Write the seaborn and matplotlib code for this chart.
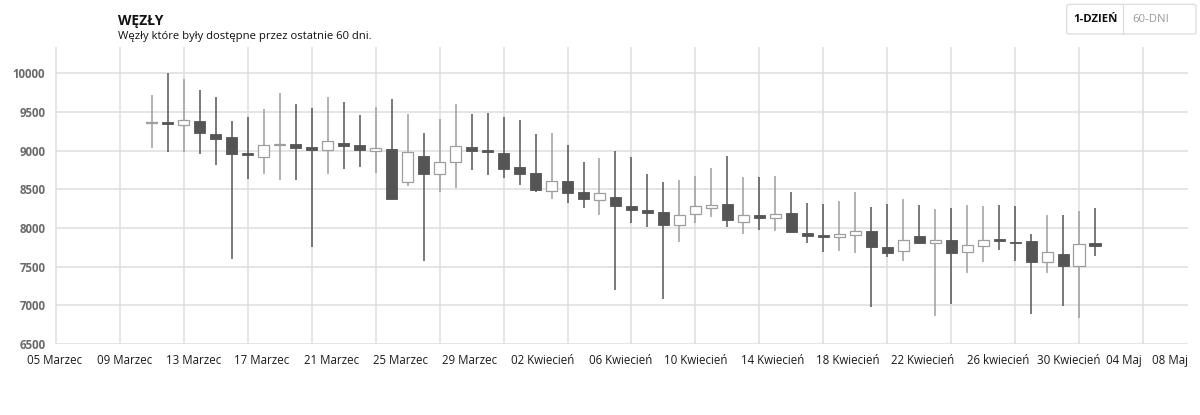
import numpy as np
import pandas as pd
import matplotlib
matplotlib.use("Agg")
import matplotlib.pyplot as plt
from matplotlib.patches import FancyBboxPatch
from matplotlib.lines import Line2D
import seaborn as sns

# ---------------- data ----------------
start_date = pd.Timestamp("2020-03-05")
dates = pd.date_range("2020-03-11", periods=60, freq="D")

open_ = [9360, 9370, 9332, 9379, 9220, 9177, 8966, 8914, 9069, 9082,
         9043, 9013, 9099, 9069, 9000, 9017, 8600, 8935, 8694, 8849,
         9043, 9009, 8966, 8793, 8711, 8478, 8603, 8470, 8358, 8405,
         8285, 8229, 8203, 8039, 8177, 8263, 8310, 8073, 8164, 8129,
         8190, 7935, 7910, 7888, 7914, 7957, 7759, 7707, 7892, 7806,
         7841, 7685, 7772, 7854, 7815, 7828, 7565, 7668, 7513, 7802]
high = [9720, 10000, 9927, 9784, 9690, 9384, 9435, 9539, 9741, 9599,
        9556, 9690, 9634, 9461, 9569, 9664, 9474, 9224, 9410, 9599,
        9474, 9491, 9431, 9397, 9211, 9224, 9073, 8849, 8901, 9000,
        8918, 8698, 8591, 8621, 8672, 8780, 8935, 8655, 8655, 8668,
        8466, 8319, 8310, 8349, 8466, 8272, 8310, 8375, 8298, 8246,
        8254, 8298, 8285, 8298, 8289, 7922, 8164, 8164, 8224, 8254]
low = [9030, 8987, 8987, 8953, 8819, 7599, 8634, 8698, 8621, 8621,
       7750, 8698, 8763, 8793, 8707, 8370, 8543, 7573, 8470, 8513,
       8750, 8685, 8642, 8552, 8465, 8379, 8328, 8259, 8168, 7198,
       8069, 8017, 7082, 7815, 8060, 8147, 8017, 7918, 7974, 7961,
       7944, 7802, 7694, 7707, 7672, 6983, 7629, 7578, 7789, 6862,
       7013, 7423, 7565, 7711, 7569, 6884, 7423, 6992, 6832, 7642]
close = [9375, 9350, 9392, 9224, 9155, 8957, 8944, 9069, 9082, 9039,
         9009, 9125, 9060, 9009, 9030, 8379, 8980, 8698, 8858, 9056,
         8996, 8987, 8767, 8698, 8487, 8603, 8457, 8371, 8453, 8289,
         8237, 8194, 8035, 8173, 8285, 8297, 8099, 8164, 8129, 8177,
         7948, 7901, 7884, 7923, 7957, 7750, 7681, 7841, 7806, 7841,
         7673, 7776, 7841, 7832, 7806, 7565, 7694, 7513, 7789, 7768]

x_labels = ["05 Marzec", "09 Marzec", "13 Marzec", "17 Marzec", "21 Marzec",
            "25 Marzec", "29 Marzec", "02 Kwiecień", "06 Kwiecień", "10 Kwiecień",
            "14 Kwiecień", "18 Kwiecień", "22 Kwiecień", "26 kwiecień",
            "30 Kwiecień", "04 Maj", "08 Maj"]
y_ticks = [6500, 7000, 7500, 8000, 8500, 9000, 9500, 10000]

title = "WĘZŁY"
subtitle = "Węzły które były dostępne przez ostatnie 60 dni."
buttons = ["1-DZIEŃ", "60-DNI"]

# ---------------- layout constants ----------------
label_pos = [-0.06, 4.29, 8.59, 12.89, 17.24, 21.55, 25.86, 30.45, 35.31,
             40.03, 44.84, 49.55, 54.24, 58.91, 63.36, 66.81, 69.69]

df = pd.DataFrame({"date": dates, "open": open_, "high": high,
                   "low": low, "close": close})
df["x"] = (df["date"] - start_date).dt.days
df["up"] = df["close"] >= df["open"]

sns.set_theme(style="whitegrid")
plt.rcParams["font.family"] = ["Open Sans", "DejaVu Sans"]

W, H = 1200, 415
fig = plt.figure(figsize=(12, 4.15), dpi=100)
ax = fig.add_axes([55 / W, 1 - 344 / H, (1188 - 55) / W, (344 - 47) / H])
ax.set_facecolor("white")

DARK = "#555555"
LIGHT = "#9e9e9e"
up = df[df["up"]]
dn = df[~df["up"]]

# wicks
ax.vlines(up["x"], up["low"], up["high"], color=LIGHT, linewidth=1.1, zorder=2)
ax.vlines(dn["x"], dn["low"], dn["high"], color=DARK, linewidth=1.1, zorder=2)

# bodies
bw = 0.7
ax.bar(up["x"], (up["close"] - up["open"]).clip(lower=8), bottom=up["open"],
       width=bw, color="white", edgecolor=LIGHT, linewidth=0.9, zorder=3)
ax.bar(dn["x"], (dn["open"] - dn["close"]).clip(lower=8), bottom=dn["close"],
       width=bw, color=DARK, edgecolor=DARK, linewidth=0.6, zorder=3)

ax.set_xlim(0, (1188 - 55) / 16)
ax.set_ylim(6500, 10340)

ax.set_yticks(y_ticks)
ax.set_yticklabels([str(v) for v in y_ticks])
ax.set_xticks(np.arange(0, 69, 4), minor=True)
ax.set_xticks(label_pos)
ax.set_xticklabels(x_labels)

ax.grid(False)
ax.grid(True, which="major", axis="y", color="#dedede", linewidth=1.1)
ax.grid(True, which="minor", axis="x", color="#dedede", linewidth=1.1)
ax.set_axisbelow(True)
for s in ax.spines.values():
    s.set_visible(False)

ax.tick_params(axis="both", which="both", length=0)
ax.tick_params(axis="x", pad=7, labelsize=8.3, labelcolor="#1a1a1a")
ax.tick_params(axis="y", pad=7, labelsize=8.3, labelcolor="#6a6a6a")
for t in ax.get_yticklabels():
    t.set_fontweight("bold")
ax.set_xlabel("")
ax.set_ylabel("")

# title / subtitle
fig.text(118.5 / W, 1 - 25 / H, title, fontsize=10, fontweight="bold",
         color="#111111", va="baseline", ha="left")
fig.text(118.5 / W, 1 - 38.5 / H, subtitle, fontsize=8.1,
         color="#111111", va="baseline", ha="left")

# button group
bx0, bx1, by0, by1 = 1066.7, 1196, 4.3, 34
box = FancyBboxPatch((bx0 / W, 1 - by1 / H), (bx1 - bx0) / W, (by1 - by0) / H,
                     boxstyle="round,pad=0,rounding_size=0.003",
                     transform=fig.transFigure, facecolor="white",
                     edgecolor="#dddddd", linewidth=0.9)
fig.patches.append(box)
fig.lines.append(Line2D([1123.3 / W, 1123.3 / W], [1 - by1 / H, 1 - by0 / H],
                        transform=fig.transFigure, color="#dddddd", linewidth=0.9))
fig.text(1095.5 / W, 1 - 19 / H, buttons[0], fontsize=8.2, fontweight="bold",
         color="#111111", ha="center", va="center")
fig.text(1151 / W, 1 - 19 / H, buttons[1], fontsize=8.2,
         color="#999999", ha="center", va="center")

fig.savefig("out.png", dpi=100, facecolor="white")
